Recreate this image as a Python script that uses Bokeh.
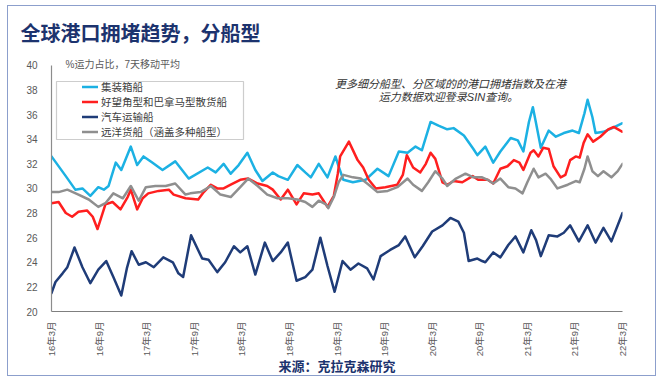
from bokeh.plotting import figure
from bokeh.models import Legend, LegendItem, Label, BoxAnnotation, FixedTicker, Range1d, Title
from bokeh.embed import file_html
from bokeh.resources import INLINE
import math

# ---- data (x = months since 2016-03) ----
tick_labels = ["16年3月", "16年9月", "17年3月", "17年9月", "18年3月", "18年9月", "19年3月",
               "19年9月", "20年3月", "20年9月", "21年3月", "21年9月", "22年3月"]

container_m = [0, 1.8, 3.0, 3.9, 4.9, 5.9, 6.6, 7.2, 8.1, 8.8, 10.0, 10.8, 11.6, 12.7, 14.0, 15.6,
               17.3, 19.7, 20.7, 21.7, 22.6, 23.6, 24.7, 25.7, 26.6, 27.9, 28.6, 29.8, 31.0, 32.0,
               32.7, 33.7, 34.8, 35.8, 36.2, 36.8, 38.0, 39.6, 41.1, 42.5, 43.8, 44.9, 45.9, 46.7,
               47.8, 48.8, 49.9, 50.7, 52.0, 53.2, 53.7, 54.7, 55.7, 56.6, 57.9, 58.8, 59.5, 60.2,
               60.7, 61.1, 61.7, 62.7, 63.6, 64.6, 65.7, 66.5, 67.2, 67.6, 68.2, 68.6, 69.6, 70.7, 72.0]
container_v = [32.6, 31.0, 29.9, 30.0, 29.4, 30.1, 29.9, 30.2, 32.1, 31.5, 33.4, 31.9, 32.6, 32.1,
               31.5, 32.2, 30.8, 31.7, 31.3, 32.0, 31.2, 31.9, 32.9, 31.5, 30.6, 31.3, 31.0, 30.7,
               31.9, 31.3, 30.9, 32.0, 30.9, 32.6, 31.8, 30.7, 30.5, 30.7, 31.6, 31.0, 33.0, 32.9,
               33.4, 33.1, 35.4, 35.1, 34.8, 34.9, 34.3, 33.2, 32.7, 33.4, 32.1, 33.0, 34.1, 33.9,
               33.0, 35.4, 36.6, 35.3, 33.3, 34.7, 34.2, 34.5, 34.7, 34.5, 36.1, 37.2, 35.8, 34.5,
               34.6, 34.9, 35.3]

bulk_m = [0, 0.9, 1.8, 2.6, 3.4, 4.5, 5.2, 5.8, 6.8, 7.7, 8.7, 9.6, 10.0, 10.8, 11.5, 12.2, 13.5,
          14.8, 15.4, 16.9, 18.5, 19.2, 20.1, 20.9, 21.7, 22.6, 23.8, 24.8, 26.0, 27.2, 27.9, 28.9,
          29.8, 30.9, 31.8, 32.9, 33.7, 34.3, 34.8, 35.6, 36.1, 36.4, 37.5, 38.6, 39.3, 40.0, 40.9,
          42.1, 43.6, 44.3, 44.8, 45.6, 46.5, 47.2, 47.8, 48.4, 49.3, 49.9, 50.7, 51.8, 53.1, 53.8,
          55.0, 55.7, 56.6, 57.5, 58.3, 59.0, 59.5, 60.4, 60.8, 61.4, 62.0, 62.7, 63.3, 64.2, 64.8,
          65.4, 66.1, 66.6, 67.1, 67.6, 68.3, 69.2, 70.2, 70.9, 72.0]
bulk_v = [28.8, 28.9, 28.0, 27.7, 28.1, 28.2, 27.7, 26.7, 28.7, 28.9, 28.3, 29.3, 29.9, 28.3, 29.2,
          29.6, 29.8, 29.9, 29.5, 29.2, 29.1, 29.7, 30.3, 30.0, 30.0, 30.3, 30.7, 30.8, 30.4, 30.2,
          29.9, 29.1, 29.9, 28.7, 29.6, 29.5, 29.6, 29.0, 28.5, 29.4, 31.2, 32.6, 33.8, 32.3, 31.7,
          30.7, 30.0, 30.1, 30.3, 31.1, 32.7, 31.7, 31.3, 32.0, 32.9, 32.4, 30.5, 30.3, 30.6, 30.5,
          31.0, 30.7, 30.7, 30.4, 31.6, 31.8, 32.3, 32.1, 31.5, 32.9, 33.1, 32.6, 33.3, 33.2, 31.8,
          30.9, 31.1, 32.3, 32.6, 32.5, 33.7, 34.4, 33.8, 34.2, 34.8, 35.0, 34.6]

car_m = [0, 0.5, 1.4, 2.0, 2.9, 3.9, 4.9, 5.9, 6.9, 7.8, 8.8, 9.5, 10.1, 11.0, 11.9, 12.9, 14.1,
         15.3, 16.0, 16.6, 17.6, 19.0, 19.8, 20.9, 21.9, 23.0, 23.8, 24.7, 25.7, 26.9, 27.9, 28.9,
         29.8, 30.9, 32.0, 32.9, 33.9, 34.8, 35.7, 36.7, 37.7, 38.7, 39.8, 40.6, 41.5, 42.7, 43.8,
         44.6, 45.8, 46.8, 48.0, 49.3, 50.3, 51.3, 52.0, 52.6, 53.7, 54.3, 54.7, 55.7, 56.6, 57.6,
         58.5, 59.5, 60.5, 61.1, 61.7, 62.7, 63.8, 64.6, 65.4, 66.5, 67.6, 68.6, 69.6, 70.6, 72.0]
car_v = [21.5, 22.4, 23.1, 23.6, 25.2, 23.6, 22.3, 23.4, 24.1, 22.8, 21.3, 23.5, 24.9, 23.8, 24.0,
         23.6, 24.4, 24.0, 23.1, 22.8, 26.2, 24.3, 24.2, 23.2, 24.0, 25.3, 24.8, 25.3, 23.0, 25.6,
         24.1, 24.8, 25.6, 22.5, 22.8, 23.4, 26.0, 23.7, 21.6, 24.1, 23.4, 23.9, 23.5, 22.6, 24.5,
         25.0, 25.4, 26.1, 24.4, 25.3, 26.5, 27.0, 27.6, 27.3, 26.4, 24.1, 24.3, 24.1, 24.0, 24.8,
         24.4, 25.4, 26.1, 24.8, 26.6, 25.8, 24.5, 26.2, 26.1, 26.4, 27.0, 25.7, 27.0, 25.6, 26.8,
         25.7, 28.0]

ocean_m = [0, 0.9, 2.0, 3.4, 4.7, 5.9, 6.8, 7.8, 9.0, 10.0, 11.0, 11.9, 13.1, 14.4, 15.6, 16.9,
           17.5, 18.8, 20.1, 21.3, 22.6, 23.8, 24.8, 26.0, 27.2, 28.5, 29.8, 31.0, 32.0, 32.9, 33.7,
           34.6, 34.9, 35.6, 36.2, 36.8, 38.0, 39.0, 40.0, 41.1, 42.4, 43.6, 44.9, 45.6, 46.7, 47.5,
           48.4, 49.3, 49.9, 51.0, 52.2, 53.2, 54.3, 55.0, 55.7, 56.6, 57.6, 58.5, 59.4, 60.0, 60.8,
           61.4, 62.3, 62.9, 63.8, 65.1, 66.1, 66.6, 67.2, 67.6, 68.2, 68.9, 69.6, 70.6, 71.4, 72.0]
ocean_v = [29.7, 29.7, 29.9, 29.5, 29.1, 28.5, 28.8, 29.6, 29.2, 30.2, 29.0, 30.1, 30.2, 30.2, 30.4,
           29.5, 29.6, 29.7, 30.2, 29.5, 29.3, 30.1, 30.8, 30.2, 29.5, 29.2, 29.2, 29.1, 28.9, 28.5,
           29.0, 28.7, 28.4, 29.3, 30.5, 31.1, 30.9, 30.8, 30.3, 29.7, 29.8, 30.1, 30.8, 30.3, 29.8,
           30.5, 31.4, 30.8, 30.2, 30.8, 31.2, 30.9, 30.9, 30.7, 30.4, 30.8, 30.1, 30.0, 29.6, 30.5,
           31.6, 30.9, 31.2, 30.8, 30.0, 30.3, 30.6, 30.5, 31.6, 32.6, 31.4, 31.0, 31.4, 30.9, 31.4,
           32.0]

series_names = ["集装箱船", "好望角型和巴拿马型散货船", "汽车运输船", "远洋货船（涵盖多种船型）"]
series_colors = ["#1cb1e3", "#ff1f1f", "#1f3c78", "#8f8f8f"]

CJK = "Liberation Sans, Noto Sans CJK SC"
NAVY_TXT = "#1c336e"

p = figure(width=649, height=371, output_backend="svg", toolbar_location=None,
           x_range=Range1d(0, 72), y_range=Range1d(20, 40.8),
           min_border_left=43, min_border_right=35, min_border_top=49, min_border_bottom=65)
p.styles = {"border": "1px solid #8c9fcc", "margin-left": "7px", "margin-top": "5px"}
p.outline_line_color = None
p.xgrid.visible = False
p.ygrid.visible = False
p.background_fill_color = "white"
p.border_fill_color = "white"

renderers = []
for xs, ys, c in [(container_m, container_v, series_colors[0]),
                  (bulk_m, bulk_v, series_colors[1]),
                  (car_m, car_v, series_colors[2]),
                  (ocean_m, ocean_v, series_colors[3])]:
    r = p.line(xs, ys, line_color=c, line_width=2.5, line_join="round", line_cap="round")
    renderers.append(r)

# axes
p.xaxis.ticker = FixedTicker(ticks=list(range(0, 73, 6)))
p.xaxis.major_label_overrides = {i * 6: t for i, t in enumerate(tick_labels)}
p.xaxis.major_label_orientation = math.pi / 2
p.xaxis.major_label_text_font_size = "9.5px"
p.xaxis.major_label_text_color = "#595959"
p.xaxis.major_label_text_font = CJK
p.xaxis.major_label_standoff = 4
p.xaxis.major_tick_line_color = None
p.xaxis.minor_tick_line_color = None
p.xaxis.axis_line_color = "#7f7f7f"
p.xaxis.axis_line_width = 1.2
p.xaxis.axis_label = "来源：克拉克森研究"
p.xaxis.axis_label_standoff = 0
p.xaxis.axis_label_text_font_size = "13px"
p.xaxis.axis_label_text_font_style = "bold"
p.xaxis.axis_label_text_color = NAVY_TXT
p.xaxis.axis_label_text_font = CJK

p.yaxis.ticker = FixedTicker(ticks=list(range(20, 41, 2)))
p.yaxis.bounds = (20, 40)
p.yaxis.major_label_text_font_size = "10px"
p.yaxis.major_label_text_color = "#595959"
p.yaxis.major_label_text_font = CJK
p.yaxis.major_label_standoff = 8
p.yaxis.major_tick_line_color = None
p.yaxis.minor_tick_line_color = None
p.yaxis.axis_line_color = "#8c8c8c"
p.yaxis.axis_line_width = 1.2

# legend
p.add_layout(BoxAnnotation(left=5, right=192, top=230, bottom=172,
                           left_units="screen", right_units="screen",
                           top_units="screen", bottom_units="screen",
                           fill_alpha=0, line_color="#595959", line_width=1.2))
legend = Legend(items=[LegendItem(label=n, renderers=[r]) for n, r in zip(series_names, renderers)],
                location=(31, 172), glyph_width=16, glyph_height=15, label_height=15,
                spacing=0, padding=0, margin=0, label_standoff=3,
                border_line_alpha=0, background_fill_alpha=0,
                label_text_font_size="10.5px", label_text_color="#404040",
                label_text_font=CJK)
p.add_layout(legend)

# texts
p.add_layout(Title(text="全球港口拥堵趋势，分船型", align="left", offset=-31, standoff=22,
                   text_font_size="20px", text_font_style="bold", text_color=NAVY_TXT,
                   text_font=CJK), "above")
p.add_layout(Label(x=14, y=247, x_units="screen", y_units="screen", text="%运力占比，7天移动平均",
                   text_font_size="10px", text_color="#595959", text_font=CJK,
                   text_baseline="middle"))
p.add_layout(Label(x=399, y=228, x_units="screen", y_units="screen",
                   text="更多细分船型、分区域的的港口拥堵指数及在港",
                   text_font_size="11px", text_font_style="italic", text_color="#333333",
                   text_font=CJK, text_baseline="middle", text_align="center"))
p.add_layout(Label(x=397, y=215, x_units="screen", y_units="screen",
                   text="运力数据欢迎登录SIN查询。",
                   text_font_size="11px", text_font_style="italic", text_color="#333333",
                   text_font=CJK, text_baseline="middle", text_align="center"))

open("out.html", "w").write(file_html(p, INLINE))
